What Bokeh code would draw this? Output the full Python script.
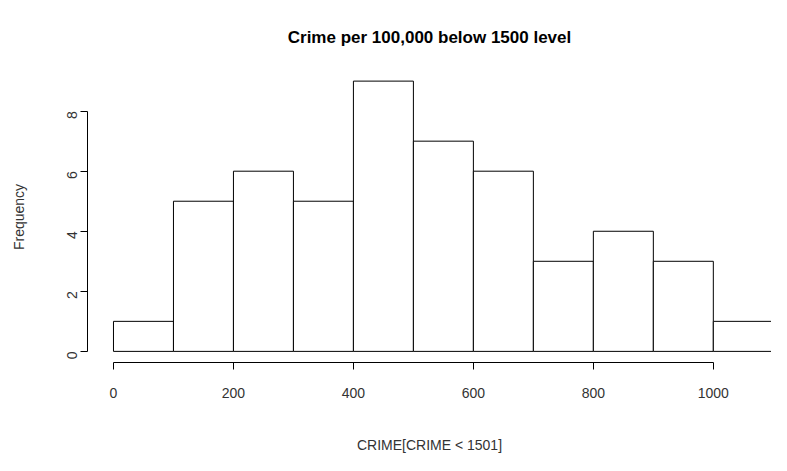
import math
from bokeh.plotting import figure
from bokeh.models import FixedTicker
from bokeh.embed import file_html
from bokeh.resources import INLINE

# histogram bins of CRIME below 1501
left_edges = [0, 100, 200, 300, 400, 500, 600, 700, 800, 900, 1000]
right_edges = [100, 200, 300, 400, 500, 600, 700, 800, 900, 1000, 1100]
counts = [1, 5, 6, 5, 9, 7, 6, 3, 4, 3, 1]
x_ticks = [0, 200, 400, 600, 800, 1000]
y_ticks = [0, 2, 4, 6, 8]

p = figure(width=771, height=455, output_backend="svg", toolbar_location=None,
           x_range=(-43.3, 1097), y_range=(-0.37, 9.32),
           min_border_left=87, min_border_right=0, min_border_top=60, min_border_bottom=80,
           title="Crime per 100,000 below 1500 level")
p.outline_line_color = None
p.xgrid.visible = False
p.ygrid.visible = False
p.background_fill_color = "white"

p.title.text_font = "Liberation Sans"
p.title.text_font_size = "17px"
p.title.text_font_style = "bold"
p.title.text_color = "black"
p.title.align = "center"
p.title.offset = 12
p.title.standoff = 50

p.quad(left=left_edges, right=right_edges, bottom=0, top=counts,
       fill_color="white", line_color="black", line_width=1)

for ax in (p.xaxis[0], p.yaxis[0]):
    ax.major_label_text_font = "Liberation Sans"
    ax.major_label_text_font_size = "14px"
    ax.major_label_text_color = "#333333"
    ax.axis_label_text_font = "Liberation Sans"
    ax.axis_label_text_font_size = "14px"
    ax.axis_label_text_font_style = "normal"
    ax.axis_label_text_color = "#333333"
    ax.minor_tick_line_color = None
    ax.major_tick_out = 7
    ax.major_tick_in = 0
    ax.axis_line_color = "black"
    ax.major_tick_line_color = "black"

p.xaxis[0].ticker = FixedTicker(ticks=x_ticks)
p.xaxis[0].bounds = (0, 1000)
p.xaxis[0].axis_label = "CRIME[CRIME < 1501]"
p.xaxis[0].major_label_standoff = 18
p.xaxis[0].axis_label_standoff = 36

p.yaxis[0].ticker = FixedTicker(ticks=y_ticks)
p.yaxis[0].bounds = (0, 8)
p.yaxis[0].axis_label = "Frequency"
p.yaxis[0].major_label_orientation = math.pi / 2
p.yaxis[0].major_label_standoff = 8
p.yaxis[0].axis_label_standoff = 33

open("out.html", "w").write(file_html(p, INLINE))
